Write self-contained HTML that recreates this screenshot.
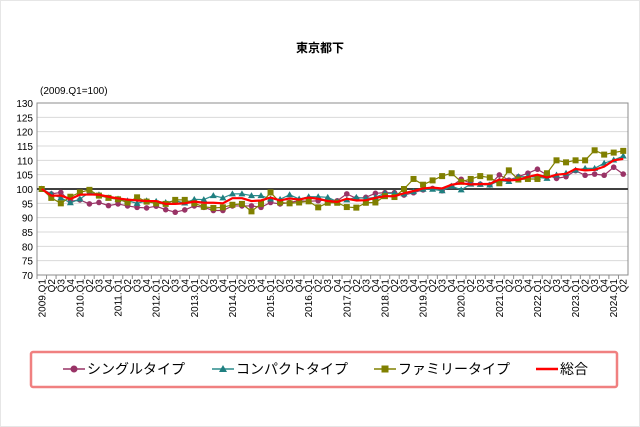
<!DOCTYPE html>
<html><head><meta charset="utf-8"><style>
html,body{margin:0;padding:0;background:#fff;}
svg{display:block;font-family:"Liberation Sans","Noto Sans CJK JP",sans-serif;}
</style></head><body>
<svg id="chart" width="640" height="427" viewBox="0 0 640 427" xmlns="http://www.w3.org/2000/svg">
<rect x="0.5" y="0.5" width="639" height="426" fill="#fff" stroke="#e6e6e6"/>
<text x="320" y="52" text-anchor="middle" font-size="12" font-weight="bold" fill="#000">東京都下</text>
<text x="40" y="94" font-size="10" fill="#000">(2009.Q1=100)</text>
<g id="grid"></g><g id="axes"></g><g id="series"></g>
<rect x="31" y="352" width="586" height="35" rx="2" fill="none" stroke="#f08080" stroke-width="2.5"/>
<g><line x1="63" y1="369" x2="85" y2="369" stroke="#993366" stroke-width="1.5"/><circle cx="74" cy="369" r="3.5" fill="#993366"/><text x="87" y="374" font-size="14">シングルタイプ</text></g>
<g><line x1="212" y1="369" x2="234" y2="369" stroke="#2a8c8c" stroke-width="1.5"/><path d="M223 365 L227 372 L219 372 Z" fill="#1f7f80"/><text x="236" y="374" font-size="14">コンパクトタイプ</text></g>
<g><line x1="374" y1="369" x2="396" y2="369" stroke="#808000" stroke-width="1.5"/><rect x="381.5" y="365.5" width="7" height="7" fill="#808000"/><text x="398" y="374" font-size="14">ファミリータイプ</text></g>
<g><line x1="536" y1="369" x2="558" y2="369" stroke="#ff0000" stroke-width="2.5"/><text x="560" y="374" font-size="14">総合</text></g>
</svg>
<script>
const single=[100,98.3,98.8,95.7,96.2,94.8,95.3,94.2,94.8,94.1,93.6,93.4,94,92.8,91.9,92.7,94.1,93.6,92.5,92.5,94.1,94.1,94.1,93.6,95.3,94.8,95.3,95.9,95.7,95.9,96.2,95.9,98.3,96.7,97.1,98.5,98.7,98.7,97.9,98.7,99.7,100.2,99.4,101,103.4,102,101.7,101.4,104.9,103.1,104.3,105.5,106.9,104.9,103.7,104.3,106.4,104.8,105.2,104.8,107.6,105.2];
const compact=[100,98.3,96.9,95.2,96.5,98.8,98,96.9,96.5,95.9,95,95.9,95.7,95.3,95.9,95.1,96.4,96.3,97.7,96.9,98.3,98.3,97.7,97.7,96.5,96.4,98,96.5,97.3,97.3,97.1,95.6,96.2,97.1,96.7,97.1,98.5,98.5,98.3,99.1,99.9,99.9,99.4,101,99.7,101.7,101.6,101.4,102.9,102.6,104.3,104.3,104.1,103.7,104.9,105.5,106.6,107.2,107.2,109,110.1,111.5];
const family=[100,96.9,95,97.3,98.8,99.7,97.7,96.9,96.4,95.3,97.1,95.6,95,94.8,96.2,96.2,95,93.8,93.4,93.6,94.5,94.8,92.2,94.8,98.8,95.3,95,95.3,95.7,93.6,95.2,95.2,93.7,93.5,95.2,95.3,97.5,97.2,100,103.5,101.5,103,104.5,105.5,102.5,103.5,104.5,104,102,106.5,103.3,103.5,103.5,105.5,110,109.3,110,110,113.5,112,112.7,113.3];
const total=[100,97.7,97.7,96.5,98,98.1,98,97.3,96.7,96.3,96,95.8,95.8,94.8,94.8,95,95.6,95.2,95.2,95,96.8,96.8,95.8,96,97,96,96.7,96.3,97,96.6,95.8,95.5,96.6,96,96.1,96.9,97.5,97.5,98.5,99.3,100.2,100.5,100.2,101.5,102,101.6,101.7,101.8,103.3,103,103.2,104.2,105,104,105,105.3,107,106.5,106.7,107.8,110,110.5];
const yTicks=[70,75,80,85,90,95,100,105,110,115,120,125,130];
const years=[2009,2010,2011,2012,2013,2014,2015,2016,2017,2018,2019,2020,2021,2022,2023,2024];
const categories=[];
years.forEach(y=>{for(let q=1;q<=4;q++){if(y===2024&&q>2)break;categories.push(q===1?y+'.Q1':'Q'+q);}});
const NS='http://www.w3.org/2000/svg';
const L=37,R=628,T=103,B=275;
const n=categories.length,step=(R-L)/n;
const xS=i=>L+step*(i+0.5);
const yS=v=>B-(v-70)/60*(B-T);
function mk(tag,at,parent){const e=document.createElementNS(NS,tag);for(const k in at)e.setAttribute(k,at[k]);parent.appendChild(e);return e;}
const grid=document.getElementById('grid'),axes=document.getElementById('axes'),ser=document.getElementById('series');
yTicks.forEach(v=>{
 const g=mk('line',{x1:L,x2:R,y1:yS(v),y2:yS(v),stroke:'#d9d9d9','stroke-width':1},grid);
 
 
 const t=mk('text',{x:L-4,y:yS(v)+4,'text-anchor':'end','font-size':10,fill:'#000'},axes);
 t.textContent=v;
 
 
});
const fr=mk('rect',{x:L,y:T,width:R-L,height:B-T,fill:'none',stroke:'#8c8c8c','stroke-width':1},axes);


const base=mk('line',{x1:L,x2:R,y1:yS(100),y2:yS(100),stroke:'#404040','stroke-width':2},axes);


categories.forEach((c,i)=>{
 const tk=mk('line',{x1:L+step*i,x2:L+step*i,y1:B,y2:B+4,stroke:'#8c8c8c'},axes);
 
 
 const x=xS(i)+3.5,y=B+4;
 const t=mk('text',{x:x,y:y,'text-anchor':'end','font-size':10,fill:'#000',transform:`rotate(-90 ${x} ${y})`},axes);
 t.textContent=c;
 
 
});
function line(data,color,w,name){
 const p=mk('polyline',{points:data.map((v,i)=>xS(i)+','+yS(v)).join(' '),fill:'none',stroke:color,'stroke-width':w,'stroke-linejoin':'round'},ser);
 
 
}
line(single,'#993366',1.2,'single-line');
single.forEach((v,i)=>{const m=mk('circle',{cx:xS(i),cy:yS(v),r:2.8,fill:'#993366'},ser);
 
 });
line(compact,'#2a8c8c',1.2,'compact-line');
compact.forEach((v,i)=>{const x=xS(i),y=yS(v);const m=mk('path',{d:`M${x} ${y-3.5} L${x+3.5} ${y+2.5} L${x-3.5} ${y+2.5} Z`,fill:'#1f7f80'},ser);
 
 });
line(family,'#808000',1.2,'family-line');
family.forEach((v,i)=>{const m=mk('rect',{x:xS(i)-3,y:yS(v)-3,width:6,height:6,fill:'#808000'},ser);
 
 });
line(total,'#ff0000',2.2,'total-line');
</script>
</body></html>
